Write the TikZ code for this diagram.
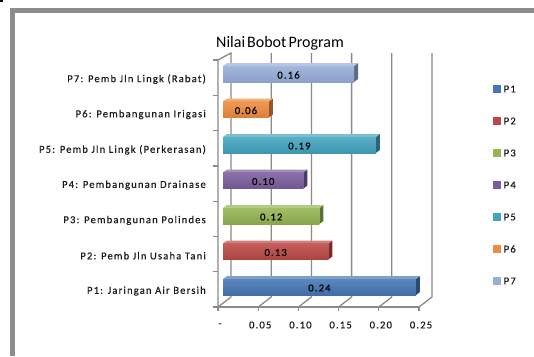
\documentclass[tikz,border=0pt]{standalone}
\usepackage{fontspec}
\setmainfont{Carlito}
\newfontfamily\lblfont[LetterSpace=11,FakeBold=0.35]{Carlito}
\newfontfamily\titlefont[WordSpace=0.55]{Carlito}
\definecolor{cP1}{HTML}{4677B5}
\definecolor{cP2}{HTML}{BC4845}
\definecolor{cP3}{HTML}{94B552}
\definecolor{cP4}{HTML}{7B5E9E}
\definecolor{cP5}{HTML}{43A4BF}
\definecolor{cP6}{HTML}{EE8B3E}
\definecolor{cP7}{HTML}{96AED8}
\definecolor{framegray}{HTML}{8C8C8C}
\definecolor{gridgray}{HTML}{8A8A8A}
\definecolor{txt}{HTML}{1A1A1A}
\tikzset{
  catlbl/.style={anchor=east, inner sep=0pt, font=\lblfont\fontsize{10.6}{11}\selectfont, text=txt},
  axlbl/.style={inner sep=0pt, font=\lblfont\fontsize{10.6}{11}\selectfont, text=txt},
  vallbl/.style={inner sep=0pt, font=\lblfont\fontsize{10.6}{11}\selectfont, text=black},
  leglbl/.style={anchor=west, inner sep=0pt, font=\lblfont\fontsize{10.6}{11}\selectfont, text=txt},
  grid/.style={draw=gridgray, line width=1.3pt},
}
\begin{document}
\begin{tikzpicture}[x=1pt,y=-1pt]
\useasboundingbox (0,0) rectangle (534,356);
% outer frame of the chart area
\fill[white] (0,0) rectangle (534,356);
\fill[black] (0,0) rectangle (3,2);
\fill[framegray] (10,8) rectangle (534,13);
\fill[framegray] (10,8) rectangle (15,356);

% title
\node[font=\titlefont\fontsize{16}{18}\selectfont, text=black, inner sep=0pt] (title) at (280,43) {Nilai Bobot Program};

% back wall gridlines
\foreach \k in {1,...,5}{
  \draw[grid] ({231+40.2*\k},53) -- ({231+40.2*\k},297) -- ({218+40.2*\k},307);
}
% left wall
\draw[grid] (218,307) -- (218,60) -- (231,53) -- (231,297) -- (218,307);
% floor front edge with ticks
\draw[grid] (218,307) -- (419,307);
\foreach \k in {0,...,5}{
  \draw[grid] ({218+40.2*\k},307) -- ({218+40.2*\k},311);
}
% category ticks on the left wall
\foreach \k in {0,...,7}{
  \draw[grid] (213,{60+35.3*\k}) -- (218,{60+35.3*\k});
}

% axis values
\foreach \k/\t in {0/-,1/0.05,2/0.10,3/0.15,4/0.20,5/0.25}{
  \node[axlbl] (ax\k) at ({220+40.2*\k},325) {\t};
}

% category labels
\foreach \i/\t in {1/{P1: Jaringan Air Bersih},2/{P2: Pemb Jln Usaha Tani},3/{P3: Pembangunan Polindes},4/{P4: Pembangunan Drainase},5/{P5: Pemb Jln Lingk (Perkerasan)},6/{P6: Pembangunan Irigasi},7/{P7: Pemb Jln Lingk (Rabat)}}{
  \node[catlbl] (cat\i) at (206,{291-35.3*(\i-1)}) {\t};
}

% bars
\foreach \i/\v/\t in {1/0.240/0.24,2/0.131/0.13,3/0.120/0.12,4/0.100/0.10,5/0.190/0.19,6/0.057/0.06,7/0.163/0.16}{
  \pgfmathsetmacro\yc{287-35.5*(\i-1)}
  \pgfmathsetmacro\xe{223+\v*804}
  \fill[cP\i!62!black] (\xe,\yc-8) -- ++(4,-3) -- ++(0,16) -- (\xe,\yc+8) -- cycle;
  \fill[cP\i!70!white] (223,\yc-8) -- ++(4,-3) -- (\xe+4,\yc-11) -- (\xe,\yc-8) -- cycle;
  \shade[top color=cP\i!88!white, bottom color=cP\i!92!black] (223,\yc-8) rectangle (\xe,\yc+8);
  \node[vallbl] (val\i) at ({(223+\xe)/2},\yc+1) {\t};
}

% legend
\foreach \i in {1,...,7}{
  \fill[cP\i] (493,{85+32*(\i-1)}) rectangle (501,{93+32*(\i-1)});
  \node[leglbl] (leg\i) at (503.5,{89+32*(\i-1)}) {P\i};
}
\end{tikzpicture}
\end{document}
